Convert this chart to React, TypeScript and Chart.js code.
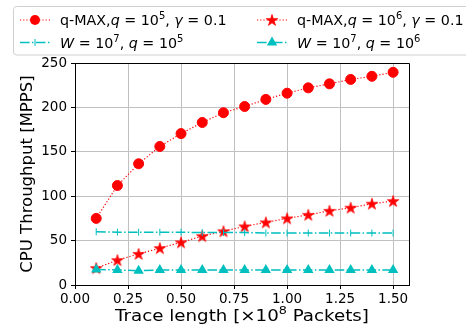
import React, { useEffect, useRef } from 'react';
import { Chart, registerables } from 'chart.js';

Chart.register(...registerables);

const traceLengths = [0.1, 0.2, 0.3, 0.4, 0.5, 0.6, 0.7, 0.8, 0.9, 1.0, 1.1, 1.2, 1.3, 1.4, 1.5];
const qmaxQ5 = [75, 112, 136.5, 156, 170.5, 183, 194, 201, 209, 216, 222, 226.5, 231.5, 235, 239.5];
const qmaxQ6 = [19, 28, 35, 41.5, 48, 55, 60.5, 66, 70.5, 75, 79, 83.5, 87, 91.5, 94.5];
const windowQ5 = [60, 59.5, 59.5, 59.5, 59.5, 59, 59, 59, 58.5, 58.5, 58.5, 58.5, 58.5, 58.5, 58.5];
const windowQ6 = [17.5, 17, 16, 17, 17, 17, 17, 17, 17, 17, 17, 17, 17, 17, 17];
const xTicks = [0, 0.25, 0.5, 0.75, 1.0, 1.25, 1.5];
const yTicks = [0, 50, 100, 150, 200, 250];

const RED = '#ff0000';
const CYAN = '#00bfbf';
const FONT = '"DejaVu Sans"';

type Seg = { t: string; it?: boolean; sup?: boolean };

function drawRich(ctx: CanvasRenderingContext2D, segs: Seg[], x: number, y: number, size: number, sx = 1, align: 'left' | 'center' = 'left') {
  const fontFor = (s: Seg) => `${s.it ? 'italic ' : ''}${s.sup ? size * 0.7 : size}px ${FONT}`;
  let w = 0;
  for (const s of segs) {
    ctx.font = fontFor(s);
    w += ctx.measureText(s.t).width;
  }
  ctx.save();
  ctx.translate(x, y);
  ctx.scale(sx, 1);
  ctx.textBaseline = 'alphabetic';
  ctx.textAlign = 'left';
  ctx.fillStyle = '#000';
  let cx = align === 'center' ? -w / 2 : 0;
  for (const s of segs) {
    ctx.font = fontFor(s);
    ctx.fillText(s.t, cx, s.sup ? -size * 0.42 : 0);
    cx += ctx.measureText(s.t).width;
  }
  ctx.restore();
}

function makeStar(): HTMLCanvasElement {
  const c = document.createElement('canvas');
  c.width = 14;
  c.height = 14;
  const g = c.getContext('2d')!;
  const R = 6;
  const r = R * 0.382;
  g.beginPath();
  for (let i = 0; i < 10; i++) {
    const rad = (i % 2 === 0 ? R : r);
    const ang = -Math.PI / 2 + (i * Math.PI) / 5;
    const px = 7 + rad * Math.cos(ang);
    const py = 7.5 + rad * Math.sin(ang);
    if (i === 0) g.moveTo(px, py);
    else g.lineTo(px, py);
  }
  g.closePath();
  g.fillStyle = RED;
  g.fill();
  g.strokeStyle = RED;
  g.lineWidth = 0.8;
  g.stroke();
  return c;
}

const DOTTED = [1.2, 2];
const DASHDOT = [9.6, 2.4, 1.5, 2.4];

export default function App() {
  const ref = useRef<HTMLCanvasElement | null>(null);

  useEffect(() => {
    document.body.style.margin = '0';
    const canvas = ref.current!;
    const star = makeStar();

    const pts = (ys: number[]) => traceLengths.map((x, i) => ({ x, y: ys[i] }));

    const legendItems = [
      { x: 20, y: 20, color: RED, dash: DOTTED, lw: 1.2, marker: 'circle', text: [
        { t: 'q-MAX,' }, { t: 'q', it: true }, { t: ' = 10' }, { t: '5', sup: true }, { t: ', ' }, { t: 'γ', it: true }, { t: ' = 0.1' },
      ] as Seg[] },
      { x: 257, y: 20, color: RED, dash: DOTTED, lw: 1.2, marker: 'star', text: [
        { t: 'q-MAX,' }, { t: 'q', it: true }, { t: ' = 10' }, { t: '6', sup: true }, { t: ', ' }, { t: 'γ', it: true }, { t: ' = 0.1' },
      ] as Seg[] },
      { x: 20, y: 42.5, color: CYAN, dash: DASHDOT, lw: 1.5, marker: 'vline', text: [
        { t: 'W', it: true }, { t: ' = 10' }, { t: '7', sup: true }, { t: ', ' }, { t: 'q', it: true }, { t: ' = 10' }, { t: '5', sup: true },
      ] as Seg[] },
      { x: 257, y: 42.5, color: CYAN, dash: DASHDOT, lw: 1.5, marker: 'triangle', text: [
        { t: 'W', it: true }, { t: ' = 10' }, { t: '7', sup: true }, { t: ', ' }, { t: 'q', it: true }, { t: ' = 10' }, { t: '6', sup: true },
      ] as Seg[] },
    ];

    const decor = {
      id: 'decor',
      afterDraw(chart: any) {
        const ctx: CanvasRenderingContext2D = chart.ctx;
        const a = chart.chartArea;
        ctx.save();
        ctx.strokeStyle = '#000';
        ctx.lineWidth = 1;
        ctx.beginPath();
        ctx.moveTo(a.left, Math.round(a.top) + 0.5);
        ctx.lineTo(Math.round(a.right) + 0.5, Math.round(a.top) + 0.5);
        ctx.lineTo(Math.round(a.right) + 0.5, a.bottom);
        ctx.stroke();

        drawRich(ctx, [{ t: 'Trace length [×10' }, { t: '8', sup: true }, { t: ' Packets]' }], (a.left + a.right) / 2, 321, 16, 1.14, 'center');
        ctx.save();
        ctx.translate(32, (a.top + a.bottom) / 2);
        ctx.rotate(-Math.PI / 2);
        drawRich(ctx, [{ t: 'CPU Throughput [MPPS]' }], 0, 0, 16.5, 1, 'center');
        ctx.restore();

        ctx.beginPath();
        const bx = 13.5, by = 6.5, bw = 470, bh = 48.5, rr = 3;
        ctx.moveTo(bx + rr, by);
        ctx.lineTo(bx + bw, by);
        ctx.lineTo(bx + bw, by + bh);
        ctx.lineTo(bx + rr, by + bh);
        ctx.arcTo(bx, by + bh, bx, by + bh - rr, rr);
        ctx.lineTo(bx, by + rr);
        ctx.arcTo(bx, by, bx + rr, by, rr);
        ctx.closePath();
        ctx.fillStyle = 'rgba(255,255,255,0.85)';
        ctx.fill();
        ctx.strokeStyle = '#d0d0d0';
        ctx.lineWidth = 1;
        ctx.stroke();

        for (const it of legendItems) {
          ctx.save();
          ctx.strokeStyle = it.color;
          ctx.lineWidth = it.lw;
          ctx.setLineDash(it.dash);
          ctx.beginPath();
          ctx.moveTo(it.x, it.y);
          ctx.lineTo(it.x + 30, it.y);
          ctx.stroke();
          ctx.setLineDash([]);
          const mx = it.x + 15;
          const my = it.y;
          ctx.fillStyle = it.color;
          if (it.marker === 'circle') {
            ctx.beginPath();
            ctx.arc(mx, my, 5, 0, Math.PI * 2);
            ctx.fill();
          } else if (it.marker === 'star') {
            ctx.drawImage(star, mx - 7, my - 7);
          } else if (it.marker === 'triangle') {
            const r = 6;
            ctx.beginPath();
            ctx.moveTo(mx, my - r);
            ctx.lineTo(mx + r * Math.sin((2 * Math.PI) / 3), my - r * Math.cos((2 * Math.PI) / 3));
            ctx.lineTo(mx + r * Math.sin((4 * Math.PI) / 3), my - r * Math.cos((4 * Math.PI) / 3));
            ctx.closePath();
            ctx.fill();
          } else {
            ctx.lineWidth = 1;
            ctx.beginPath();
            ctx.moveTo(mx, my - 3.5);
            ctx.lineTo(mx, my + 3.5);
            ctx.stroke();
          }
          ctx.restore();
          drawRich(ctx, it.text, it.x + 40, it.y + 5, 14, 1.02);
        }
        ctx.restore();
      },
    };

    const chart = new Chart(canvas, {
      type: 'line',
      data: {
        datasets: [
          {
            label: 'q-MAX q=1e5',
            data: pts(qmaxQ5),
            borderColor: RED,
            backgroundColor: RED,
            borderWidth: 1.2,
            borderDash: DOTTED,
            pointStyle: 'circle',
            pointRadius: 5,
            pointBorderWidth: 1,
            pointBorderColor: RED,
            pointBackgroundColor: RED,
            order: 3,
          },
          {
            label: 'q-MAX q=1e6',
            data: pts(qmaxQ6),
            borderColor: RED,
            backgroundColor: RED,
            borderWidth: 1.2,
            borderDash: DOTTED,
            pointStyle: star as any,
            pointRadius: 6,
            order: 2,
          },
          {
            label: 'W=1e7 q=1e5',
            data: pts(windowQ5),
            borderColor: CYAN,
            backgroundColor: CYAN,
            borderWidth: 1.5,
            borderDash: DASHDOT,
            pointStyle: 'line',
            pointRotation: 90,
            pointRadius: 3.5,
            pointBorderWidth: 1,
            pointBorderColor: CYAN,
            order: 1,
          },
          {
            label: 'W=1e7 q=1e6',
            data: pts(windowQ6),
            borderColor: CYAN,
            backgroundColor: CYAN,
            borderWidth: 1.5,
            borderDash: DASHDOT,
            pointStyle: 'triangle',
            pointRadius: 6,
            pointBorderWidth: 0,
            pointBackgroundColor: CYAN,
            order: 0,
          },
        ],
      },
      options: {
        animation: false,
        responsive: false,
        devicePixelRatio: 1,
        layout: { padding: { top: 63, right: 57, left: 0, bottom: 0 } },
        plugins: { legend: { display: false }, tooltip: { enabled: false }, title: { display: false } },
        elements: { line: { tension: 0, fill: false } },
        scales: {
          x: {
            type: 'linear',
            min: 0,
            max: 1.575,
            afterBuildTicks: (s: any) => { s.ticks = xTicks.map((v) => ({ value: v })); },
            afterFit: (s: any) => { s.height = 41; },
            ticks: {
              color: '#000',
              font: { family: 'DejaVu Sans', size: 13.5 },
              padding: 2,
              maxRotation: 0,
              autoSkip: false,
              callback: (v: any) => Number(v).toFixed(2),
            },
            grid: { color: '#c0c0c0', lineWidth: 1, tickLength: 4, tickColor: '#000', drawTicks: true },
            border: { display: true, color: '#000', width: 1 },
          },
          y: {
            type: 'linear',
            min: 0,
            max: 250,
            afterBuildTicks: (s: any) => { s.ticks = yTicks.map((v) => ({ value: v })); },
            afterFit: (s: any) => { s.width = 75; },
            ticks: {
              color: '#000',
              font: { family: 'DejaVu Sans', size: 13.5 },
              padding: 4,
              autoSkip: false,
              callback: (v: any) => String(v),
            },
            grid: { color: '#c0c0c0', lineWidth: 1, tickLength: 4, tickColor: '#000', drawTicks: true },
            border: { display: true, color: '#000', width: 1 },
          },
        },
      },
      plugins: [decor],
    });

    return () => chart.destroy();
  }, []);

  return (
    <div style={{ width: 466, height: 326 }}>
      <canvas ref={ref} width={466} height={326} style={{ display: 'block' }} />
    </div>
  );
}
